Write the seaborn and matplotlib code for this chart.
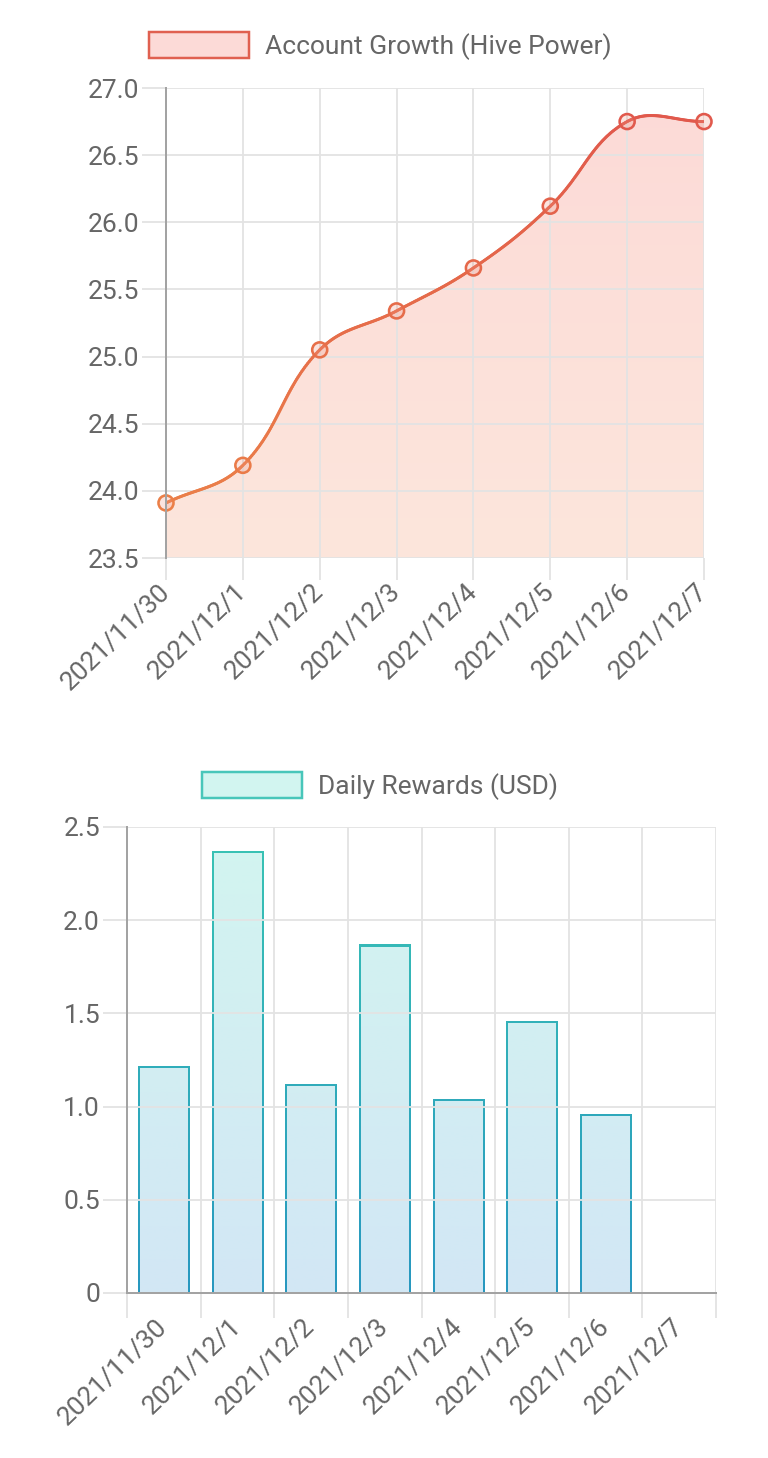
import numpy as np
import pandas as pd
import matplotlib
matplotlib.use("Agg")
import matplotlib.pyplot as plt
import seaborn as sns
from matplotlib.path import Path
from matplotlib.patches import Rectangle, PathPatch, Patch
from matplotlib.bezier import BezierSegment
from matplotlib.collections import LineCollection
from matplotlib.colors import LinearSegmentedColormap

# ---------------- data ----------------
dates = ["2021/11/30", "2021/12/1", "2021/12/2", "2021/12/3",
         "2021/12/4", "2021/12/5", "2021/12/6", "2021/12/7"]
hive_power = [23.91, 24.19, 25.05, 25.34, 25.66, 26.12, 26.75, 26.75]
rewards = [1.22, 2.37, 1.12, 1.87, 1.04, 1.46, 0.96, np.nan]
top_title = "Account Growth (Hive Power)"
bottom_title = "Daily Rewards (USD)"
hp_ticks = [23.5, 24.0, 24.5, 25.0, 25.5, 26.0, 26.5, 27.0]
hp_tick_labels = ["23.5", "24.0", "24.5", "25.0", "25.5", "26.0", "26.5", "27.0"]
rw_ticks = [0, 0.5, 1.0, 1.5, 2.0, 2.5]
rw_tick_labels = ["0", "0.5", "1.0", "1.5", "2.0", "2.5"]

# ---------------- style ----------------
sns.set_theme(style="white")
plt.rcParams["font.family"] = ["Roboto", "DejaVu Sans"]

DPI = 100
W, H = 768, 1458
PT = 72 / DPI          # points per pixel
FS = 19
TXT = "#666666"
GRID = "#e3e3e3"
AXIS = "#a3a3a3"

line_top, line_bot = (224/255, 86/255, 76/255), (236/255, 132/255, 72/255)
fill_top, fill_bot = (252/255, 218/255, 215/255), (253/255, 230/255, 220/255)
bedge_top, bedge_bot = (58/255, 196/255, 180/255), (40/255, 152/255, 192/255)
bfill_top, bfill_bot = (210/255, 245/255, 240/255), (210/255, 231/255, 245/255)

fig = plt.figure(figsize=(W / DPI, H / DPI), dpi=DPI)
fig.patch.set_facecolor("white")

ax1 = fig.add_axes([166 / W, 1 - 558 / H, 538 / W, 470 / H])
ax2 = fig.add_axes([127 / W, 1 - 1293 / H, 589 / W, 466 / H])


def vgrad(ax, c_top, c_bot, extent, clip, z):
    cmap = LinearSegmentedColormap.from_list("g", [c_top, c_bot])
    grad = np.linspace(0, 1, 256)[:, None]
    im = ax.imshow(grad, cmap=cmap, aspect="auto", extent=extent,
                   origin="upper", zorder=z, interpolation="bilinear")
    im.set_clip_path(clip)
    return im


def style_axis(ax):
    for s in ax.spines.values():
        s.set_visible(False)
    ax.set_xlabel("")
    ax.set_ylabel("")
    ax.set_axisbelow(True)
    ax.set_facecolor("white")


# ---------------- top chart: Hive Power ----------------
x = np.arange(len(dates))
xmin, xmax = 0, len(dates) - 1
ymin, ymax = hp_ticks[0], hp_ticks[-1]
sns.scatterplot(x=x, y=hive_power, ax=ax1, s=(15 * PT) ** 2,
                color=(240/255, 150/255, 130/255, 0.25), zorder=5)
ax1.set_xlim(xmin, xmax)
ax1.set_ylim(ymin, ymax)

# Chart.js-style smooth curve (tension 0.4), computed in pixel space
P = ax1.transData.transform(np.column_stack([x, hive_power]))
tension = 0.4
n = len(P)
cp_prev = np.zeros_like(P)
cp_next = np.zeros_like(P)
bb = ax1.get_window_extent()
for i in range(n):
    p0, p1, p2 = P[max(i - 1, 0)], P[i], P[min(i + 1, n - 1)]
    d01 = np.hypot(*(p1 - p0))
    d12 = np.hypot(*(p2 - p1))
    s = d01 + d12
    cp_prev[i] = p1 - tension * (d01 / s) * (p2 - p0)
    cp_next[i] = p1 + tension * (d12 / s) * (p2 - p0)
for cp in (cp_prev, cp_next):
    cp[:, 0] = np.clip(cp[:, 0], bb.x0, bb.x1)
    cp[:, 1] = np.clip(cp[:, 1], bb.y0, bb.y1)

ts = np.linspace(0, 1, 60)
pix = []
for i in range(n - 1):
    seg = BezierSegment(np.array([P[i], cp_next[i], cp_prev[i + 1], P[i + 1]]))
    pts = seg(ts)
    pix.append(pts if i == 0 else pts[1:])
pix = np.vstack(pix)
curve = ax1.transData.inverted().transform(pix)

# area fill with vertical gradient
poly = np.vstack([curve, [[curve[-1, 0], ymin], [curve[0, 0], ymin], curve[0]]])
area = PathPatch(Path(poly), facecolor="none", edgecolor="none",
                 transform=ax1.transData)
ax1.add_patch(area)
vgrad(ax1, fill_top, fill_bot, [xmin, xmax, ymin, ymax], area, 0.3)

# gradient line
lcmap = LinearSegmentedColormap.from_list("l", [line_top, line_bot])
segs = np.stack([curve[:-1], curve[1:]], axis=1)
ymid = segs[:, :, 1].mean(axis=1)
lc = LineCollection(segs, colors=lcmap((ymax - ymid) / (ymax - ymin)),
                    linewidths=3 * PT, capstyle="round", joinstyle="round",
                    zorder=4)
ax1.add_collection(lc)

# marker edge colours follow gradient
mk = ax1.collections[0]
mk.set_edgecolors(lcmap((ymax - np.array(hive_power)) / (ymax - ymin)))
mk.set_linewidths(2.6 * PT)
mk.set_clip_on(False)

ax1.set_xlim(xmin, xmax)
ax1.set_ylim(ymin, ymax)
style_axis(ax1)
ax1.spines["left"].set_visible(True)
ax1.spines["left"].set_color(AXIS)
ax1.spines["left"].set_linewidth(2 * PT)
ax1.spines["left"].set_zorder(6)
ax1.set_yticks(hp_ticks)
ax1.set_yticklabels(hp_tick_labels)
ax1.set_xticks(x)
ax1.set_xticklabels(dates, rotation=44, ha="right", va="center",
                    rotation_mode="anchor")
ax1.grid(True, color=GRID, linewidth=1.8 * PT)
ax1.tick_params(axis="y", length=24 * PT, width=1.8 * PT, color=GRID,
                pad=3 * PT, labelsize=FS, labelcolor=TXT, left=True)
ax1.tick_params(axis="x", length=22 * PT, width=1.8 * PT, color=GRID,
                pad=8 * PT, labelsize=FS, labelcolor=TXT, bottom=True)

fig.legend(handles=[Patch(facecolor=fill_top, edgecolor=(224/255, 96/255, 80/255),
                          linewidth=2.5 * PT)],
           labels=[top_title], loc="center",
           bbox_to_anchor=(380 / W, 1 - 46 / H), frameon=False,
           handlelength=100 / (FS / PT), handleheight=30 / (FS / PT),
           handletextpad=16 / (FS / PT), fontsize=FS, labelcolor=TXT)

# ---------------- bottom chart: Daily Rewards ----------------
df = pd.DataFrame({"date": dates, "usd": rewards})
sns.barplot(data=df, x="date", y="usd", order=dates, ax=ax2, width=0.70,
            color=bfill_top, edgecolor="none", errorbar=None)
bx0, bx1 = -0.5, len(dates) - 0.5
by0, by1 = rw_ticks[0], rw_ticks[-1]
ax2.set_xlim(bx0, bx1)
ax2.set_ylim(by0, by1)

o = ax2.transData.transform([[0, 0], [1, 1]])
ux, uy = o[1] - o[0]          # pixels per data unit
bw = 2.2                       # border width in px
for p in list(ax2.patches):
    h = p.get_height()
    if not np.isfinite(h) or h <= 0:
        p.set_visible(False)
        continue
    x0, w = p.get_x(), p.get_width()
    p.set_visible(False)
    outer = Rectangle((x0, 0), w, h, transform=ax2.transData)
    inner = Rectangle((x0 + bw / ux, 0), w - 2 * bw / ux, h - bw / uy,
                      transform=ax2.transData)
    vgrad(ax2, bedge_top, bedge_bot, [bx0, bx1, by0, by1], outer, 0.3)
    vgrad(ax2, bfill_top, bfill_bot, [bx0, bx1, by0, by1], inner, 0.31)

ax2.set_xlim(bx0, bx1)
ax2.set_ylim(by0, by1)
style_axis(ax2)
for side in ("left", "bottom"):
    ax2.spines[side].set_visible(True)
    ax2.spines[side].set_color(AXIS)
    ax2.spines[side].set_linewidth(2 * PT)
    ax2.spines[side].set_zorder(6)
ax2.set_yticks(rw_ticks)
ax2.set_yticklabels(rw_tick_labels)
ax2.set_xticks(np.arange(len(dates)))
ax2.set_xticklabels(dates, rotation=44, ha="right", va="center",
                    rotation_mode="anchor")
ax2.set_xticks(np.arange(len(dates) + 1) - 0.5, minor=True)
ax2.grid(True, which="minor", axis="x", color=GRID, linewidth=1.8 * PT)
ax2.grid(True, which="major", axis="y", color=GRID, linewidth=1.8 * PT)
ax2.grid(False, which="major", axis="x")
ax2.tick_params(axis="y", length=24 * PT, width=1.8 * PT, color=GRID,
                pad=3 * PT, labelsize=FS, labelcolor=TXT, left=True)
ax2.tick_params(axis="x", which="major", length=0, pad=30 * PT,
                labelsize=FS, labelcolor=TXT, bottom=True)
ax2.tick_params(axis="x", which="minor", length=25 * PT, width=1.8 * PT,
                color=GRID, bottom=True)

fig.legend(handles=[Patch(facecolor=bfill_top, edgecolor=(72/255, 198/255, 186/255),
                          linewidth=2.5 * PT)],
           labels=[bottom_title], loc="center",
           bbox_to_anchor=(380 / W, 1 - 786 / H), frameon=False,
           handlelength=100 / (FS / PT), handleheight=30 / (FS / PT),
           handletextpad=16 / (FS / PT), fontsize=FS, labelcolor=TXT)

fig.savefig("out.png", dpi=DPI, facecolor="white")
